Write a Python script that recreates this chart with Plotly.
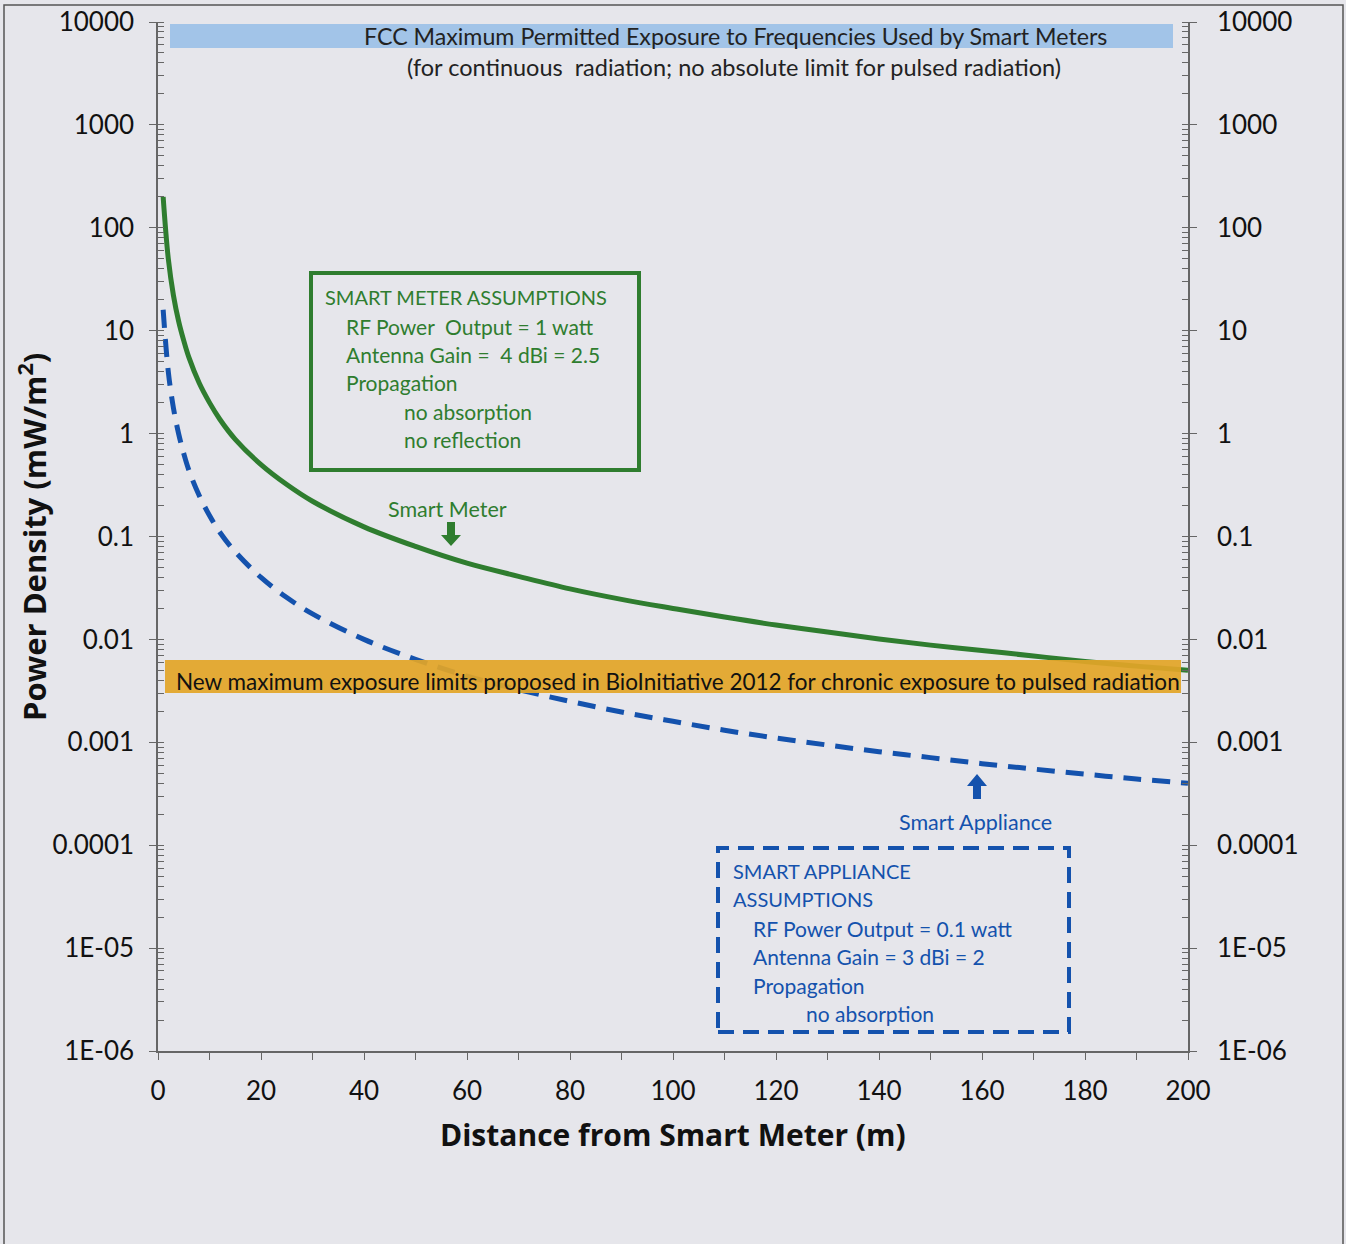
import plotly.graph_objects as go

# ---------------- data ----------------
distance_m = [1, 2, 3, 4, 5, 6, 8, 10, 12, 15, 20, 25, 30, 40, 50, 60, 70, 80, 90,
              100, 110, 120, 130, 140, 150, 160, 170, 180, 190, 200]
smart_meter = [200, 50, 22, 12.4, 8.0, 5.5, 3.1, 2.0, 1.38, 0.88, 0.50, 0.32, 0.22,
               0.124, 0.080, 0.055, 0.041, 0.031, 0.0245, 0.020, 0.0165, 0.0138,
               0.0118, 0.0101, 0.0088, 0.0078, 0.0069, 0.0061, 0.0055, 0.0050]
smart_appliance = [16, 4.0, 1.77, 1.0, 0.64, 0.44, 0.25, 0.16, 0.11, 0.071, 0.040,
                   0.0255, 0.0177, 0.0100, 0.0064, 0.0044, 0.00325, 0.0025, 0.00197,
                   0.0016, 0.00131, 0.0011, 0.00094, 0.00081, 0.00071, 0.00062,
                   0.00055, 0.00049, 0.00044, 0.0004]
x_tickvals = [0, 20, 40, 60, 80, 100, 120, 140, 160, 180, 200]
y_tickvals = [1e-6, 1e-5, 1e-4, 1e-3, 1e-2, 1e-1, 1, 10, 100, 1000, 10000]
y_ticktext = ["1E-06", "1E-05", "0.0001", "0.001", "0.01", "0.1", "1", "10", "100",
              "1000", "10000"]

# ---------------- layout helpers (pixel -> paper) ----------------
W, H = 1346, 1244
L, R, T, B = 158, 1188, 22, 1051


def px(x):
    return (x - L) / (R - L)


def py(y):
    return (B - y) / (B - T)


def path(points):
    return "M" + " L".join(f"{px(x):.5f},{py(y):.5f}" for x, y in points) + " Z"


FONT = "Lato, Carlito, Calibri, sans-serif"
BFONT = "'Open Sans', Lato, sans-serif"
GREEN = "#2f7d2f"
BLUE = "#1452ad"
AXIS = "#666666"
BG = "#e6e6eb"

fig = go.Figure()
fig.add_trace(go.Scatter(x=distance_m, y=smart_meter, mode="lines",
                         line=dict(color=GREEN, width=5, shape="spline"),
                         name="Smart Meter", yaxis="y", hoverinfo="skip"))
fig.add_trace(go.Scatter(x=distance_m, y=smart_appliance, mode="lines",
                         line=dict(color=BLUE, width=5, dash="18px,11px", shape="spline"),
                         name="Smart Appliance", yaxis="y2", hoverinfo="skip"))

yax = dict(type="log", range=[-6, 4], tickvals=y_tickvals, ticktext=y_ticktext,
           showgrid=False, zeroline=False, showline=True, linecolor=AXIS, linewidth=1.5,
           ticks="outside", ticklen=7, tickcolor=AXIS, tickwidth=1.3, automargin=False,
           minor=dict(dtick="D1", ticks="inside", ticklen=6, tickcolor=AXIS, tickwidth=1),
           tickfont=dict(family=FONT, size=26, color="#111111"))

fig.update_layout(
    width=W, height=H,
    margin=dict(l=L, r=W - R, t=T, b=H - B, autoexpand=False),
    paper_bgcolor=BG, plot_bgcolor=BG,
    showlegend=False,
    xaxis=dict(range=[0, 200], tickvals=x_tickvals, automargin=False,
               showgrid=False, zeroline=False, showline=True, linecolor=AXIS, linewidth=1.5,
               ticks="outside", ticklen=7, tickcolor=AXIS, tickwidth=1.3,
               minor=dict(dtick=10, ticks="outside", ticklen=7, tickcolor=AXIS, tickwidth=1),
               tickfont=dict(family=FONT, size=26, color="#111111"),
               ticklabelstandoff=9),
    yaxis=dict(**yax, side="left", ticklabelstandoff=10),
    yaxis2=dict(**yax, side="right", overlaying="y", anchor="x", ticklabelstandoff=15),
)

shapes = []
# outer frame
shapes.append(dict(type="rect", xref="paper", yref="paper",
                   x0=px(4), x1=px(1343), y0=py(1260), y1=py(5),
                   line=dict(color="#555555", width=1.5), fillcolor="rgba(0,0,0,0)",
                   layer="below"))
# FCC band
shapes.append(dict(type="rect", xref="paper", yref="paper",
                   x0=px(170), x1=px(1173), y0=py(48), y1=py(24),
                   line=dict(width=0), fillcolor="#a2c4e8", layer="below"))
# BioInitiative band
shapes.append(dict(type="rect", xref="paper", yref="paper",
                   x0=px(165), x1=px(1181), y0=py(693), y1=py(660),
                   line=dict(width=0), fillcolor="rgba(226,165,40,0.93)", layer="above"))
# green assumption box
shapes.append(dict(type="rect", xref="paper", yref="paper",
                   x0=px(311), x1=px(639), y0=py(470), y1=py(273),
                   line=dict(color=GREEN, width=4), fillcolor="rgba(0,0,0,0)"))
# blue dashed assumption box
shapes.append(dict(type="rect", xref="paper", yref="paper",
                   x0=px(718), x1=px(1069), y0=py(1032), y1=py(848),
                   line=dict(color=BLUE, width=4, dash="16px,9px"),
                   fillcolor="rgba(0,0,0,0)"))
# green block arrow (down)
shapes.append(dict(type="path", xref="paper", yref="paper",
                   path=path([(447, 522), (455, 522), (455, 535), (461, 535), (451, 546),
                              (441, 535), (447, 535)]),
                   fillcolor=GREEN, line=dict(width=0)))
# blue block arrow (up)
shapes.append(dict(type="path", xref="paper", yref="paper",
                   path=path([(973, 799), (981, 799), (981, 786), (987, 786), (977, 774),
                              (967, 786), (973, 786)]),
                   fillcolor=BLUE, line=dict(width=0)))
fig.update_layout(shapes=shapes)

ann = []


def text(x, y, s, color, size=20, xanchor="left", bold=False, angle=0, family=FONT):
    ann.append(dict(xref="paper", yref="paper", x=px(x), y=py(y), text=s,
                    showarrow=False, xanchor=xanchor, yanchor="middle", textangle=angle,
                    font=dict(family=family, size=size, color=color,
                              weight="bold" if bold else "normal")))


text(735, 36, "FCC Maximum Permitted Exposure to Frequencies Used by Smart Meters",
     "#222222", 23.2, "center")
text(734, 67, "(for continuous  radiation; no absolute limit for pulsed radiation)",
     "#222222", 23.5, "center")
text(678, 681, "New maximum exposure limits proposed in BioInitiative 2012 for chronic exposure to pulsed radiation",
     "#111111", 22.5, "center")

for (x, y, s, sz) in [(323, 297, "SMART METER ASSUMPTIONS", 20),
                      (344, 326, "RF Power  Output = 1 watt", 21),
                      (344, 354, "Antenna Gain =  4 dBi = 2.5", 21),
                      (344, 382, "Propagation", 21),
                      (402, 411, "no absorption", 21),
                      (402, 439, "no reflection", 21)]:
    text(x, y, s, GREEN, sz)
text(447, 509, "Smart Meter", GREEN, 21.5, "center")

text(975, 822, "Smart Appliance", BLUE, 21.5, "center")
for (x, y, s, sz) in [(731, 871, "SMART APPLIANCE", 20),
                      (731, 899, "ASSUMPTIONS", 20),
                      (751, 928, "RF Power Output = 0.1 watt", 21),
                      (751, 956, "Antenna Gain = 3 dBi = 2", 21),
                      (751, 985, "Propagation", 21),
                      (804, 1013, "no absorption", 21)]:
    text(x, y, s, BLUE, sz)

text(673, 1134, "Distance from Smart Meter (m)", "#111111", 30, "center", bold=True,
     family=BFONT)
text(32, 537, "Power Density (mW/m<sup>2</sup>)", "#111111", 31, "center", bold=True,
     angle=-90, family=BFONT)
fig.update_layout(annotations=ann)

fig.write_html("out.html", config={"displayModeBar": False},
               post_script="document.body.style.margin='0';"
                           "document.body.style.overflow='hidden';")
